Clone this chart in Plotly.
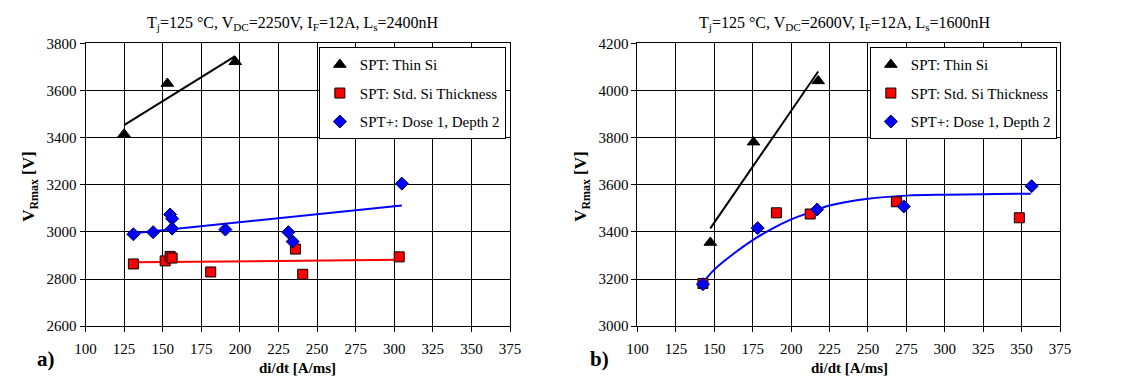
import numpy as np
import plotly.graph_objects as go

# ---------------- data: panel a) ----------------
a_thin_x = [125, 153, 197]
a_thin_y = [3415, 3630, 3722]
a_std_x = [131, 151.6, 154.8, 156.1, 181.1, 236, 240.7, 303.2]
a_std_y = [2864, 2877, 2896, 2889, 2830, 2927, 2820, 2894]
a_plus_x = [131, 143.8, 154.8, 156.1, 156.1, 190.6, 231.4, 234.2, 304.9]
a_plus_y = [2990, 2999, 3074, 3056, 3014, 3010, 2999, 2959, 3205]

# ---------------- data: panel b) ----------------
b_thin_x = [147.4, 175.5, 217.6]
b_thin_y = [3355, 3781, 4041]
b_std_x = [142.6, 190.4, 212.4, 268.5, 348.5]
b_std_y = [3181, 3481, 3476, 3528, 3460]
b_plus_x = [142.6, 178.2, 216.9, 273.3, 356.5]
b_plus_y = [3178, 3416, 3495, 3508, 3594]
# trend curve of SPT+ in panel b)
b_fit_x = [142.5, 150, 162.5, 175, 187.5, 200, 212.5, 225, 250, 275, 300, 325, 350, 356]
b_fit_y = [3184, 3240, 3307, 3365, 3413, 3453, 3484, 3512, 3541, 3554, 3558, 3560, 3562, 3562]

titles = ["T<sub>j</sub>=125 °C, V<sub>DC</sub>=2250V, I<sub>F</sub>=12A, L<sub>s</sub>=2400nH",
          "T<sub>j</sub>=125 °C, V<sub>DC</sub>=2600V, I<sub>F</sub>=12A, L<sub>s</sub>=1600nH"]
names = ["SPT: Thin Si", "SPT: Std. Si Thickness", "SPT+: Dose 1, Depth 2"]

FONT = "Liberation Serif"
W, H = 1123, 383

fig = go.Figure()


def linfit(x, y):
    c = np.polyfit(x, y, 1)
    xs = np.array([min(x), max(x)])
    return xs, np.polyval(c, xs)


def add_line(x, y, xa, ya, color, shape="linear"):
    fig.add_trace(go.Scatter(x=x, y=y, mode="lines", xaxis=xa, yaxis=ya,
                             line=dict(color=color, width=2, shape=shape),
                             showlegend=False, hoverinfo="skip"))


def add_markers(xa, ya, leg, thin, std, plus):
    styles = [("black", "triangle-up", 11, "black"),
              ("#FF0000", "square", 10, "black"),
              ("#0000FF", "diamond", 10, "#000040")]
    for i, ((x, y), (fc, sym, sz, lc)) in enumerate(zip([thin, std, plus], styles)):
        fig.add_trace(go.Scatter(x=x, y=y, mode="markers", name=names[i], xaxis=xa, yaxis=ya,
                                 legend=leg, legendgroup=f"{leg}{i}",
                                 marker=dict(symbol=sym, size=sz, color=fc,
                                             line=dict(color=lc, width=1))))


# panel a) : three linear trend lines
add_line(*linfit(a_thin_x, a_thin_y), "x", "y", "black")
add_line(*linfit(a_std_x, a_std_y), "x", "y", "#FF0000")
add_line(*linfit(a_plus_x, a_plus_y), "x", "y", "#0000FF")
add_markers("x", "y", "legend", (a_thin_x, a_thin_y), (a_std_x, a_std_y), (a_plus_x, a_plus_y))

# panel b) : linear trend for thin Si, saturating curve for SPT+
add_line(*linfit(b_thin_x, b_thin_y), "x2", "y2", "black")
add_line(b_fit_x, b_fit_y, "x2", "y2", "#0000FF", shape="spline")
add_markers("x2", "y2", "legend2", (b_thin_x, b_thin_y), (b_std_x, b_std_y), (b_plus_x, b_plus_y))

ax_common = dict(showgrid=True, gridcolor="black", gridwidth=1, showline=True, linecolor="black",
                 linewidth=1, mirror=True, ticks="outside", ticklen=5, tickcolor="black",
                 tickfont=dict(family=FONT, size=15, color="black"), zeroline=False)
x_extra = dict(range=[100, 375], dtick=25, tick0=100, ticklabelstandoff=4)

ytop = 1 - 37 / H
ybot = 1 - 332 / H

leg_common = dict(y=1 - 41 / H, xanchor="left", yanchor="top",
                  font=dict(family=FONT, size=15, color="black"), bgcolor="white",
                  bordercolor="black", borderwidth=1, traceorder="grouped", tracegroupgap=6,
                  itemwidth=30)

fig.update_layout(
    width=W, height=H, margin=dict(l=0, r=0, t=0, b=0),
    paper_bgcolor="white", plot_bgcolor="white",
    xaxis=dict(domain=[76 / W, 509 / W], anchor="y", **x_extra, **ax_common),
    yaxis=dict(domain=[ybot, ytop], range=[2600, 3800], dtick=200, anchor="x", **ax_common),
    xaxis2=dict(domain=[639 / W, 1070 / W], anchor="y2", **x_extra, **ax_common),
    yaxis2=dict(domain=[ybot, ytop], range=[3000, 4200], dtick=200, anchor="x2", **ax_common),
    legend=dict(x=314 / W, **leg_common),
    legend2=dict(x=876 / W, **leg_common),
    showlegend=True,
)

ann = []
for cx, t in zip([288, 851], titles):
    ann.append(dict(text=t, x=cx / W, y=1 - 16 / H, xref="paper", yref="paper", showarrow=False,
                    font=dict(family=FONT, size=16, color="black"), xanchor="center", yanchor="middle"))
for cx in [292, 855]:
    ann.append(dict(text="<b>di/dt [A/ms]</b>", x=cx / W, y=1 - 376 / H, xref="paper", yref="paper",
                    showarrow=False, font=dict(family=FONT, size=15, color="black"),
                    xanchor="center", yanchor="middle"))
for cx in [20, 583]:
    ann.append(dict(text="<b>V<sub>Rmax</sub> [V]</b>", x=cx / W, y=1 - 186 / H, xref="paper",
                    yref="paper", showarrow=False, textangle=-90,
                    font=dict(family=FONT, size=17, color="black"), xanchor="center", yanchor="middle"))
for cx, t in zip([36, 600], ["a)", "b)"]):
    ann.append(dict(text=f"<b>{t}</b>", x=cx / W, y=1 - 366 / H, xref="paper", yref="paper",
                    showarrow=False, font=dict(family=FONT, size=21, color="black"),
                    xanchor="center", yanchor="middle"))
fig.update_layout(annotations=ann)

fig.write_html("out.html")
